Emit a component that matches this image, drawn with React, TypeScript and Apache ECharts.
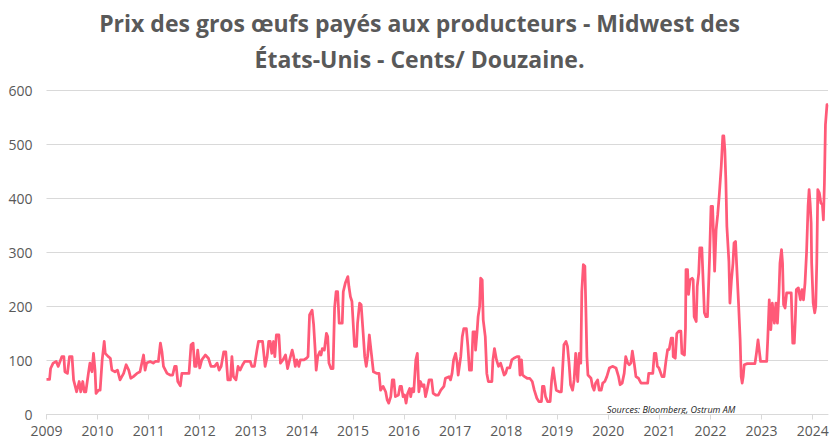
import React, { useEffect, useRef } from 'react';
import * as echarts from 'echarts';

const titleText = 'Prix des gros œufs payés aux producteurs - Midwest des\nÉtats-Unis - Cents/ Douzaine.';
const sourceText = 'Sources: Bloomberg, Ostrum AM';
const yearTicks = [2009, 2010, 2011, 2012, 2013, 2014, 2015, 2016, 2017, 2018, 2019, 2020, 2021, 2022, 2023, 2024];

// decimal years
const dates = [
  2009.00, 2009.06, 2009.08, 2009.13, 2009.19, 2009.23, 2009.30, 2009.34, 2009.36, 2009.41, 2009.45, 2009.50, 2009.53, 2009.59, 2009.64, 2009.67, 2009.71, 2009.74, 2009.77, 2009.82, 2009.85, 2009.89, 2009.92, 2009.95, 2009.97,
  2010.02, 2010.05, 2010.09, 2010.13, 2010.15, 2010.21, 2010.25, 2010.28, 2010.34, 2010.39, 2010.44, 2010.51, 2010.56, 2010.61, 2010.65, 2010.70, 2010.77, 2010.83, 2010.90, 2010.93, 2010.96,
  2011.03, 2011.09, 2011.13, 2011.19, 2011.23, 2011.26, 2011.29, 2011.36, 2011.42, 2011.47, 2011.51, 2011.54, 2011.57, 2011.62, 2011.65, 2011.75, 2011.79, 2011.83, 2011.87, 2011.90, 2011.93, 2011.96,
  2012.00, 2012.04, 2012.11, 2012.17, 2012.22, 2012.29, 2012.34, 2012.38, 2012.42, 2012.47, 2012.51, 2012.55, 2012.60, 2012.63, 2012.66, 2012.71, 2012.75, 2012.79, 2012.84, 2012.88, 2012.94, 2012.99,
  2013.02, 2013.07, 2013.12, 2013.15, 2013.23, 2013.28, 2013.32, 2013.35, 2013.38, 2013.41, 2013.445, 2013.47, 2013.50, 2013.55, 2013.58, 2013.63, 2013.68, 2013.72, 2013.76, 2013.81, 2013.84, 2013.87, 2013.90, 2013.94, 2013.97,
  2014.04, 2014.09, 2014.12, 2014.15, 2014.20, 2014.23, 2014.26, 2014.28, 2014.31, 2014.35, 2014.375, 2014.40, 2014.44, 2014.48, 2014.505, 2014.53, 2014.57, 2014.61, 2014.64, 2014.67, 2014.70, 2014.73, 2014.79, 2014.81, 2014.85, 2014.90, 2014.92, 2014.95, 2014.98,
  2015.03, 2015.07, 2015.09, 2015.13, 2015.16, 2015.20, 2015.23, 2015.26, 2015.29, 2015.32, 2015.36, 2015.40, 2015.47, 2015.51, 2015.54, 2015.59, 2015.64, 2015.67, 2015.70, 2015.74, 2015.77, 2015.80, 2015.83, 2015.89, 2015.92, 2015.95, 2015.98,
  2016.01, 2016.04, 2016.07, 2016.11, 2016.13, 2016.16, 2016.19, 2016.23, 2016.26, 2016.29, 2016.32, 2016.36, 2016.39, 2016.42, 2016.45, 2016.49, 2016.54, 2016.57, 2016.62, 2016.67, 2016.72, 2016.78, 2016.81, 2016.88, 2016.91, 2016.94, 2016.97,
  2017.01, 2017.04, 2017.06, 2017.11, 2017.14, 2017.17, 2017.22, 2017.25, 2017.28, 2017.32, 2017.35, 2017.39, 2017.40, 2017.43, 2017.45, 2017.48, 2017.50, 2017.53, 2017.55, 2017.59, 2017.62, 2017.65, 2017.72, 2017.74, 2017.77, 2017.81, 2017.85, 2017.89, 2017.96, 2017.99,
  2018.02, 2018.07, 2018.11, 2018.15, 2018.21, 2018.25, 2018.27, 2018.30, 2018.32, 2018.36, 2018.41, 2018.46, 2018.51, 2018.55, 2018.60, 2018.64, 2018.69, 2018.71, 2018.74, 2018.77, 2018.81, 2018.86, 2018.89, 2018.92, 2018.95, 2018.98,
  2019.04, 2019.08, 2019.10, 2019.13, 2019.17, 2019.20, 2019.23, 2019.26, 2019.30, 2019.33, 2019.36, 2019.40, 2019.43, 2019.46, 2019.48, 2019.51, 2019.54, 2019.56, 2019.58, 2019.60, 2019.66, 2019.69, 2019.72, 2019.75, 2019.79, 2019.82, 2019.86, 2019.89, 2019.93, 2019.97,
  2020.02, 2020.08, 2020.15, 2020.20, 2020.23, 2020.27, 2020.31, 2020.34, 2020.38, 2020.41, 2020.44, 2020.47, 2020.51, 2020.54, 2020.59, 2020.64, 2020.77, 2020.79, 2020.87, 2020.90, 2020.93, 2020.96, 2020.99,
  2021.05, 2021.09, 2021.13, 2021.16, 2021.19, 2021.23, 2021.26, 2021.27, 2021.31, 2021.34, 2021.38, 2021.42, 2021.44, 2021.49, 2021.51, 2021.52, 2021.55, 2021.57, 2021.60, 2021.64, 2021.66, 2021.68, 2021.72, 2021.74, 2021.77, 2021.79, 2021.83, 2021.86, 2021.88, 2021.91, 2021.94, 2021.98,
  2022.01, 2022.04, 2022.06, 2022.08, 2022.11, 2022.14, 2022.17, 2022.21, 2022.24, 2022.26, 2022.28, 2022.30, 2022.32, 2022.36, 2022.38, 2022.41, 2022.44, 2022.46, 2022.49, 2022.51, 2022.55, 2022.58, 2022.60, 2022.62, 2022.64, 2022.66, 2022.72, 2022.87, 2022.90, 2022.93, 2022.96, 2022.98,
  2023.10, 2023.12, 2023.15, 2023.18, 2023.21, 2023.25, 2023.28, 2023.31, 2023.34, 2023.36, 2023.39, 2023.41, 2023.43, 2023.46, 2023.49, 2023.58, 2023.61, 2023.64, 2023.66, 2023.68, 2023.72, 2023.76, 2023.79, 2023.82, 2023.85, 2023.88, 2023.91, 2023.93, 2023.95, 2023.97, 2023.98,
  2024.01, 2024.04, 2024.06, 2024.08, 2024.10, 2024.13, 2024.16, 2024.19, 2024.21, 2024.23, 2024.25, 2024.28, 2024.30,
];

// cents per dozen
const prices = [
  65, 65, 85, 95, 98, 89, 107, 107, 79, 76, 107, 107, 64, 42, 61, 42, 61, 42, 42, 76, 95, 79, 113, 82, 39,
  45, 45, 101, 135, 113, 107, 104, 82, 79, 82, 64, 76, 92, 82, 67, 70, 76, 79, 110, 82, 95,
  98, 95, 98, 98, 132, 116, 89, 76, 73, 73, 89, 89, 61, 53, 76, 76, 76, 129, 132, 89, 89, 119,
  86, 101, 110, 104, 89, 89, 95, 82, 89, 116, 116, 64, 64, 107, 70, 64, 89, 82, 92, 98, 98, 98,
  89, 89, 119, 135, 135, 89, 107, 135, 135, 113, 135, 107, 147, 147, 95, 101, 110, 85, 101, 119, 107, 89, 101, 89, 101,
  101, 104, 107, 184, 193, 166, 119, 82, 107, 116, 110, 122, 119, 150, 144, 95, 85, 85, 197, 227, 227, 169, 169, 227, 243, 255, 237, 218, 209,
  126, 126, 169, 206, 203, 150, 107, 89, 110, 147, 113, 79, 76, 76, 45, 52, 42, 27, 21, 33, 64, 64, 33, 36, 52, 52, 33,
  36, 21, 39, 48, 33, 48, 42, 101, 113, 42, 61, 52, 55, 33, 45, 64, 64, 39, 36, 36, 45, 52, 67, 70, 64, 76, 101,
  113, 95, 73, 107, 144, 159, 159, 126, 82, 82, 153, 153, 119, 153, 181, 200, 252, 249, 175, 144, 76, 61, 61, 101, 122, 101, 89, 95, 73, 76,
  86, 86, 101, 104, 107, 107, 73, 101, 73, 70, 67, 67, 61, 45, 30, 24, 24, 52, 52, 33, 24, 24, 64, 86, 64, 45,
  42, 42, 76, 129, 135, 126, 95, 55, 45, 64, 113, 61, 113, 95, 227, 277, 274, 194, 107, 73, 67, 52, 45, 58, 64, 45, 45, 58, 61, 70,
  86, 89, 86, 70, 55, 58, 76, 107, 95, 92, 95, 117, 92, 70, 67, 58, 58, 76, 76, 113, 113, 89, 86,
  70, 70, 101, 120, 120, 141, 141, 107, 104, 150, 154, 154, 113, 110, 160, 268, 268, 222, 249, 252, 249, 181, 172, 237, 262, 308, 308, 237, 188, 181, 181, 286,
  385, 385, 329, 265, 342, 369, 404, 459, 515, 515, 490, 434, 348, 283, 206, 249, 280, 317, 320, 280, 203, 138, 70, 58, 70, 92, 94, 94, 114, 138, 114, 98,
  98, 138, 212, 157, 206, 169, 206, 169, 225, 280, 305, 280, 203, 197, 225, 225, 132, 132, 175, 231, 234, 212, 231, 212, 243, 299, 385, 416, 391, 354, 280,
  206, 188, 200, 280, 416, 410, 391, 388, 360, 428, 536, 573, 573,
];

export default function App() {
  const ref = useRef<HTMLDivElement>(null);
  useEffect(() => {
    const chart = echarts.init(ref.current!, null, { renderer: 'svg' });
    const seriesData = dates.map((d, i) => [d, prices[i]]);
    chart.setOption({
      animation: false,
      backgroundColor: '#ffffff',
      textStyle: { fontFamily: 'Open Sans' },
      grid: { left: 46.5, right: 7, top: 90, bottom: 33.5, containLabel: false },
      xAxis: {
        type: 'value',
        min: 2009,
        max: 2024.3,
        interval: 1,
        axisLine: { show: true, lineStyle: { color: '#d9d9d9', width: 1 } },
        axisTick: { show: true, length: 5, lineStyle: { color: '#d9d9d9' }, customValues: yearTicks },
        axisLabel: {
          customValues: yearTicks,
          color: '#595959',
          fontSize: 14,
          fontFamily: 'Open Sans',
          margin: 9,
          formatter: (v: number) => (Number.isInteger(v) ? String(v) : ''),
        },
        splitLine: { show: false },
      },
      yAxis: {
        type: 'value',
        min: 0,
        max: 600,
        interval: 100,
        axisLine: { show: false },
        axisTick: { show: false },
        axisLabel: { color: '#595959', fontSize: 14, fontFamily: 'Open Sans', margin: 14 },
        splitLine: { show: true, lineStyle: { color: '#d9d9d9', width: 1 } },
      },
      graphic: [
        {
          type: 'text',
          x: 419.5,
          y: 41,
          style: {
            text: titleText,
            align: 'center',
            verticalAlign: 'middle',
            fontFamily: 'Open Sans',
            fontWeight: 'bold',
            fontSize: 23,
            lineHeight: 36,
            fill: '#595959',
          },
        },
        {
          type: 'text',
          x: 607,
          y: 409,
          style: {
            text: sourceText,
            align: 'left',
            verticalAlign: 'middle',
            fontFamily: 'Open Sans',
            fontStyle: 'italic',
            fontSize: 9,
            fill: '#1a1a1a',
          },
        },
      ],
      series: [
        {
          type: 'line',
          data: seriesData,
          showSymbol: false,
          symbol: 'none',
          lineStyle: { color: '#ff5a78', width: 2.75, join: 'round' },
          itemStyle: { color: '#ff5a78' },
        },
      ],
    });
    return () => chart.dispose();
  }, []);
  return (
    <div
      ref={ref}
      style={{ position: 'absolute', left: 0, top: 0, width: 835, height: 448, background: '#ffffff' }}
    />
  );
}
